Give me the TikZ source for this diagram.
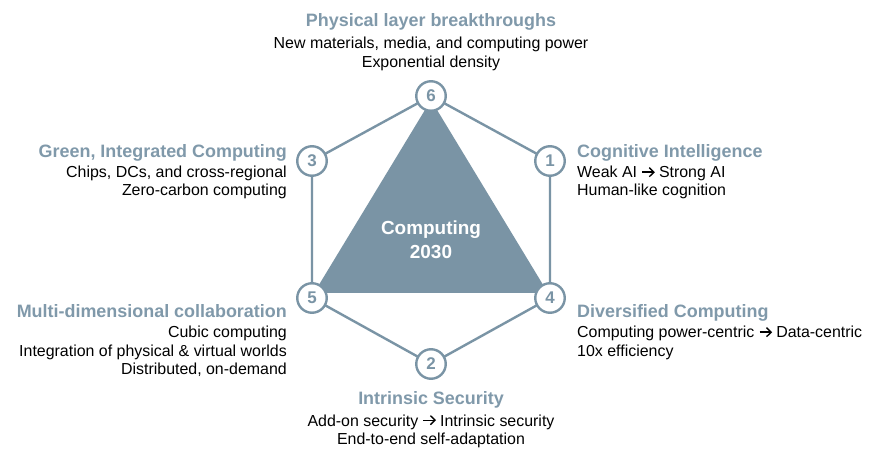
\documentclass[tikz,border=0pt]{standalone}
\usepackage{fontspec}
\setmainfont{Liberation Sans}
\definecolor{accent}{RGB}{122,148,165}
\definecolor{titlec}{RGB}{128,153,170}
\newcommand\myarrow{\tikz[baseline=0pt,x=1bp,y=1bp]{\draw[line width=1.4bp,line cap=butt] (0,5.8)--(11.5,5.8);\draw[line width=1.4bp,line join=miter] (7,10.3)--(11.6,5.8)--(7,1.3);}}
\begin{document}
\begin{tikzpicture}[x=1bp,y=-1bp,
  num/.style={circle,draw=accent,line width=2.4bp,fill=white,minimum size=29.5bp,inner sep=0pt,
    text=accent,font=\fontsize{17}{17}\selectfont\bfseries},
  edge/.style={draw=accent,line width=2.4bp},
  ttl/.style={inner sep=0pt,text=titlec,font=\fontsize{18}{19}\selectfont\bfseries},
  body/.style={inner sep=0pt,text=black,font=\fontsize{16}{19}\selectfont}]
\useasboundingbox (0,0) rectangle (882,462);
\fill[white] (0,0) rectangle (882,462);
% circles positions
\coordinate (p6) at (431,96);
\coordinate (p3) at (312,161);
\coordinate (p1) at (550,161);
\coordinate (p5) at (312,298);
\coordinate (p4) at (550,298);
\coordinate (p2) at (431,364);
% triangle
\coordinate (t6) at (431,100);
\coordinate (t5) at (314,293);
\coordinate (t4) at (548,293);
\fill[accent] (t6) -- (t5) -- (t4) -- cycle;
% hexagon edges
\draw[edge] (p6) -- (p1) -- (p4) -- (p2) -- (p5) -- (p3) -- cycle;
% numbered circles
\node[num] (n6) at (p6) {6};
\node[num] (n3) at (p3) {3};
\node[num] (n1) at (p1) {1};
\node[num] (n5) at (p5) {5};
\node[num] (n4) at (p4) {4};
\node[num] (n2) at (p2) {2};
% center text
\node[inner sep=0pt,text=white,font=\fontsize{19}{19}\selectfont\bfseries,anchor=base] (c1) at (431,235) {Computing};
\node[inner sep=0pt,text=white,font=\fontsize{19}{19}\selectfont\bfseries,anchor=base] (c2) at (431,259) {2030};
% top
\node[ttl,anchor=base] (t6a) at (431,27) {Physical layer breakthroughs};
\node[body,anchor=base] (t6b) at (431,49) {New materials, media, and computing power};
\node[body,anchor=base] (t6c) at (431,68) {Exponential density};
% left upper
\node[ttl,anchor=base east] (t3a) at (287,158) {Green, Integrated Computing};
\node[body,anchor=base east] (t3b) at (287,178) {Chips, DCs, and cross-regional};
\node[body,anchor=base east] (t3c) at (287,196) {Zero-carbon computing};
% right upper
\node[ttl,anchor=base west] (t1a) at (577,158) {Cognitive Intelligence};
\node[body,anchor=base west] (t1b) at (577,178) {Weak AI \myarrow{} Strong AI};
\node[body,anchor=base west] (t1c) at (577,196) {Human-like cognition};
% left lower
\node[ttl,anchor=base east] (t5a) at (287,318) {Multi-dimensional collaboration};
\node[body,anchor=base east] (t5b) at (287,338) {Cubic computing};
\node[body,anchor=base east] (t5c) at (287,357) {Integration of physical \& virtual worlds};
\node[body,anchor=base east] (t5d) at (287,375) {Distributed, on-demand};
% right lower
\node[ttl,anchor=base west] (t4a) at (577,318) {Diversified Computing};
\node[body,anchor=base west] (t4b) at (577,338) {Computing power-centric \myarrow{} Data-centric};
\node[body,anchor=base west] (t4c) at (577,357) {10x efficiency};
% bottom
\node[ttl,anchor=base] (t2a) at (431,404) {Intrinsic Security};
\node[body,anchor=base] (t2b) at (431,426) {Add-on security \myarrow{} Intrinsic security};
\node[body,anchor=base] (t2c) at (431,444) {End-to-end self-adaptation};
\end{tikzpicture}
\end{document}
